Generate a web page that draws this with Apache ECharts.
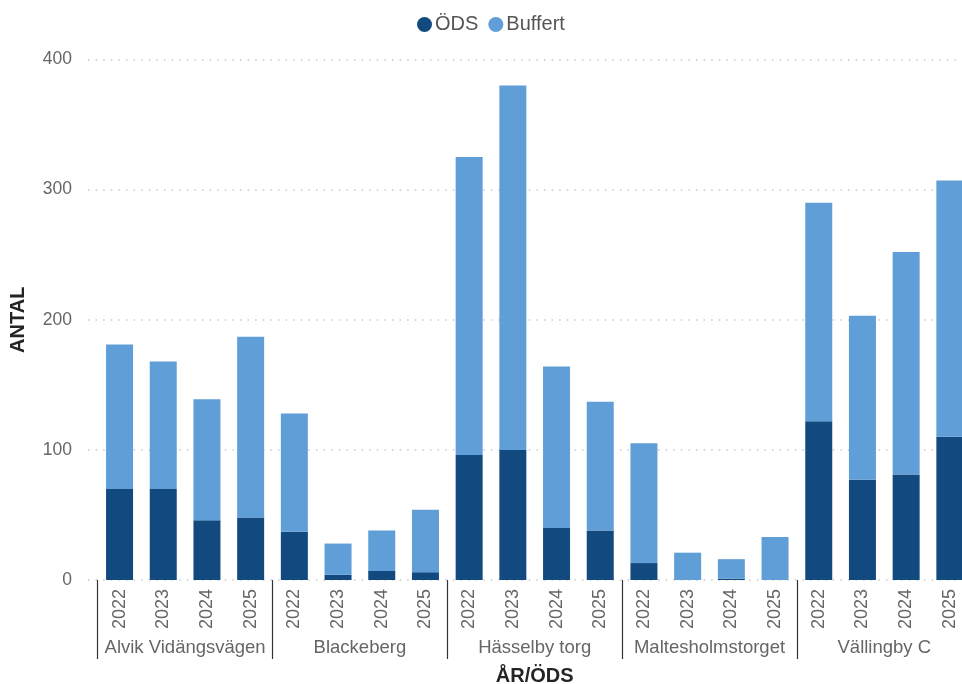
<!DOCTYPE html>
<html>
<head>
<meta charset="utf-8">
<script src="https://cdn.jsdelivr.net/npm/echarts@6/dist/echarts.min.js"></script>
<style>
html,body{margin:0;padding:0;background:#fff;}
#chart{width:962px;height:684px;}
</style>
</head>
<body>
<div id="chart"></div>
<script>
const groups = ['Alvik Vidängsvägen', 'Blackeberg', 'Hässelby torg', 'Maltesholmstorget', 'Vällingby C'];
const years = ['2022', '2023', '2024', '2025'];
const odsValues = [70, 70, 46, 48, 37, 4, 7, 6, 96, 100, 40, 38, 13, 0, 1, 0, 122, 77, 81, 110];
const buffertValues = [111, 98, 93, 139, 91, 24, 31, 48, 229, 280, 124, 99, 92, 21, 15, 33, 168, 126, 171, 197];
const yTicks = [0, 100, 200, 300, 400];

const categories = [];
groups.forEach(g => years.forEach(y => categories.push(g + '|' + y)));

const chart = echarts.init(document.getElementById('chart'), null, {renderer: 'canvas'});
const fontFam = 'Liberation Sans, Arial, sans-serif';
const option = {
  animation: false,
  textStyle: {fontFamily: fontFam},
  legend: {
    data: ['ÖDS', 'Buffert'],
    icon: 'circle',
    itemWidth: 15,
    itemHeight: 15,
    itemGap: 10,
    left: 412,
    top: 9.5,
    textStyle: {fontSize: 20, color: '#555555', fontFamily: fontFam, padding: [0, 0, 0, -2]}
  },
  grid: [
    {left: 88, width: 884, top: 59.5, height: 520.5, outerBoundsMode: 'none', containLabel: false},
    {left: 97.7, width: 874, top: 59.5, height: 520.5, outerBoundsMode: 'none', containLabel: false}
  ],
  xAxis: [
    {gridIndex: 0, type: 'category', data: [''], show: false},
    {
      gridIndex: 1, type: 'category', data: categories,
      axisLine: {show: false}, axisTick: {show: false},
      axisLabel: {
        rotate: 90, interval: 0, margin: 9, fontSize: 18, color: '#666666', fontFamily: fontFam,
        formatter: v => v.split('|')[1]
      }
    },
    {
      gridIndex: 1, type: 'category', data: groups, position: 'bottom',
      axisLine: {show: false},
      axisTick: {show: true, length: 79, interval: 0, lineStyle: {color: '#333333', width: 1.2}},
      axisLabel: {interval: 0, margin: 58.5, fontSize: 18.5, color: '#666666', fontFamily: fontFam},
      name: 'ÅR/ÖDS', nameLocation: 'middle', nameGap: 86.5,
      nameTextStyle: {fontSize: 20, fontWeight: 'bold', color: '#252423', fontFamily: fontFam}
    }
  ],
  yAxis: [
    {
      gridIndex: 0, type: 'value', min: 0, max: 400, interval: 100,
      axisLine: {show: false}, axisTick: {show: false},
      axisLabel: {margin: 16, fontSize: 17.5, color: '#666666', fontFamily: fontFam,
        formatter: v => yTicks.indexOf(v) >= 0 ? String(v) : ''},
      splitLine: {show: true, lineStyle: {color: '#c8c8c8', width: 1.5, type: [1.5, 6.1]}},
      name: 'ANTAL', nameLocation: 'middle', nameRotate: 90, nameGap: 60,
      nameTextStyle: {fontSize: 20, fontWeight: 'bold', color: '#252423', fontFamily: fontFam}
    },
    {
      gridIndex: 1, type: 'value', min: 0, max: 400, interval: 100, show: false,
      splitLine: {show: false}
    }
  ],
  series: [
    {
      name: 'ÖDS', type: 'bar', stack: 'total', xAxisIndex: 1, yAxisIndex: 1,
      barWidth: 27, data: odsValues,
      itemStyle: {color: '#124a80'}
    },
    {
      name: 'Buffert', type: 'bar', stack: 'total', xAxisIndex: 1, yAxisIndex: 1,
      barWidth: 27, data: buffertValues,
      itemStyle: {color: '#5f9ed6'}
    }
  ]
};
chart.setOption(option);
</script>
</body>
</html>
